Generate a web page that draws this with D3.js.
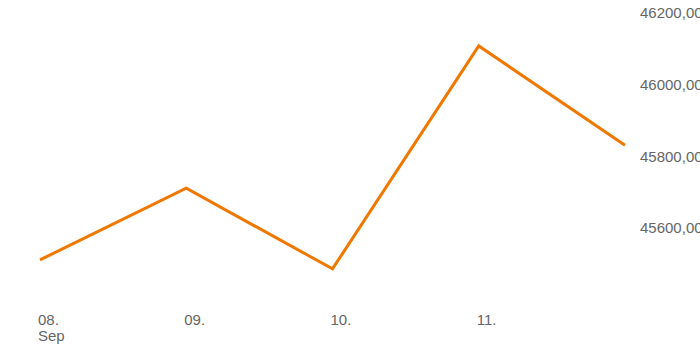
<!DOCTYPE html>
<html lang="en">
<head>
  <meta charset="UTF-8">
  <title>Price line</title>
  <script src="https://d3js.org/d3.v7.min.js"></script>
  <style>
    body {
      margin: 0;
      padding: 0;
      background: #fff;
      font-family: "Liberation Sans", Arial, sans-serif;
    }
    svg { display: block; }
    .tick-label {
      font-size: 15px;
      fill: #666;
    }
  </style>
</head>
<body>
  <div id="chart"></div>
  <script>
    const width = 700;
    const height = 350;

    // data
    const dates = ["2023-09-08", "2023-09-09", "2023-09-10", "2023-09-11", "2023-09-12"];
    const values = [45511, 45711, 45486, 46108, 45831];
    const xTickLabels = ["08.", "09.", "10.", "11."];
    const xSubLabels = ["Sep", "", "", ""];
    const yTicks = [45600, 45800, 46000, 46200];

    const parse = d3.timeParse("%Y-%m-%d");
    const data = dates.map((d, i) => ({ date: parse(d), value: values[i] }));

    const svg = d3.select("#chart")
      .append("svg")
      .attr("width", width)
      .attr("height", height);

    const x = d3.scaleTime()
      .domain(d3.extent(data, d => d.date))
      .range([40, 625]);

    const y = d3.scaleLinear()
      .domain([45600, 46200])
      .range([228, 13]);

    // right-side value labels
    svg.append("g")
      .selectAll("text")
      .data(yTicks)
      .join("text")
      .attr("class", "tick-label")
      .attr("x", 640)
      .attr("y", d => y(d))
      .attr("dy", "0.35em")
      .text(d => d3.format(".2f")(d).replace(".", ","));

    // date labels
    const xg = svg.append("g");
    xTickLabels.forEach((lab, i) => {
      const tx = x(data[i].date);
      xg.append("text")
        .attr("class", "tick-label")
        .attr("x", tx - 2)
        .attr("y", 325)
        .text(lab);
      if (xSubLabels[i]) {
        xg.append("text")
          .attr("class", "tick-label")
          .attr("x", tx - 2)
          .attr("y", 341)
          .text(xSubLabels[i]);
      }
    });

    const line = d3.line()
      .x(d => x(d.date))
      .y(d => y(d.value));

    svg.append("path")
      .datum(data)
      .attr("d", line)
      .attr("fill", "none")
      .attr("stroke", "#f07800")
      .attr("stroke-width", 3)
      .attr("stroke-linejoin", "miter");
  </script>
</body>
</html>
